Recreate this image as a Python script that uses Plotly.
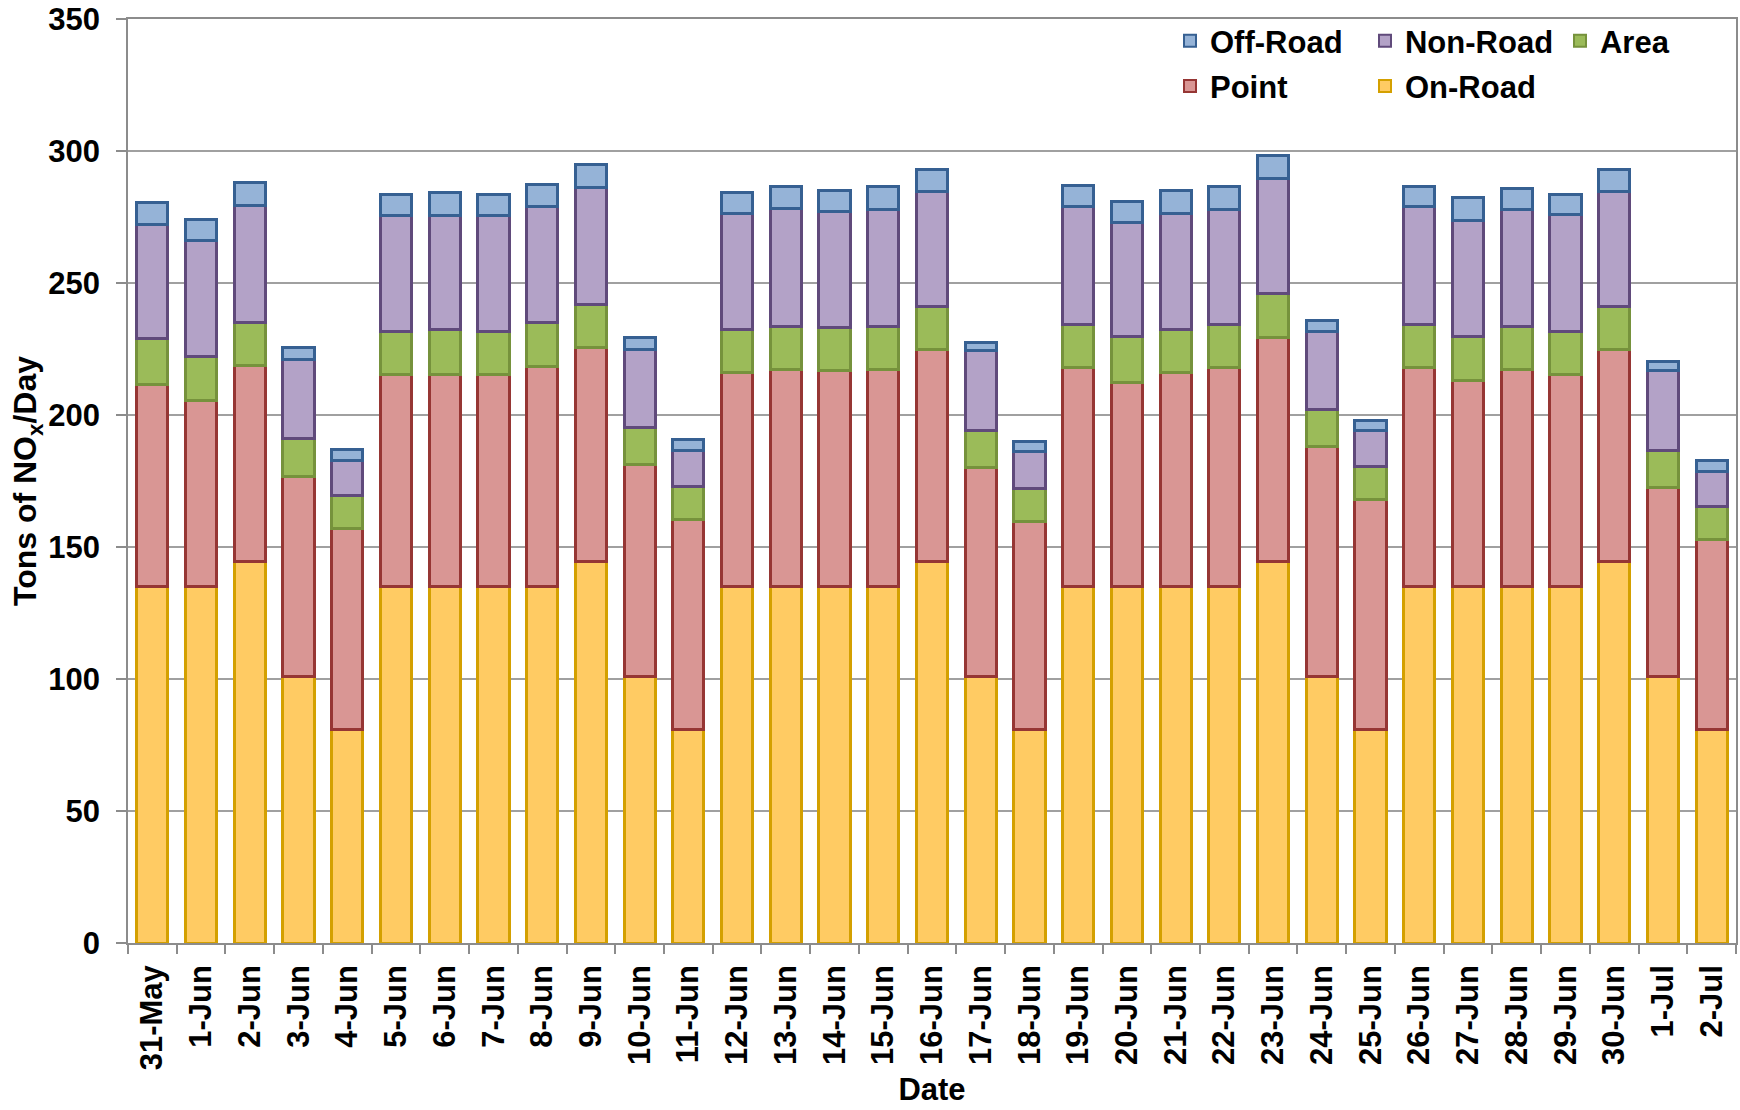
import plotly.graph_objects as go

dates = ["31-May", "1-Jun", "2-Jun", "3-Jun", "4-Jun", "5-Jun", "6-Jun", "7-Jun", "8-Jun", "9-Jun",
         "10-Jun", "11-Jun", "12-Jun", "13-Jun", "14-Jun", "15-Jun", "16-Jun", "17-Jun", "18-Jun",
         "19-Jun", "20-Jun", "21-Jun", "22-Jun", "23-Jun", "24-Jun", "25-Jun", "26-Jun", "27-Jun",
         "28-Jun", "29-Jun", "30-Jun", "1-Jul", "2-Jul"]

on_road = [135, 135, 144.5, 101, 81, 135, 135, 135, 135, 144.5, 101, 81, 135, 135, 135, 135, 144.5,
           101, 81, 135, 135, 135, 135, 144.5, 101, 81, 135, 135, 135, 135, 144.5, 101, 81]
point = [76.5, 70.5, 74.3, 75.8, 76.1, 80.3, 80.3, 80.3, 83.3, 81.0, 80.3, 79.6, 81.0, 82.3, 81.7,
         82.3, 80.3, 79.0, 78.8, 83.0, 77.3, 81.0, 83.0, 84.7, 87.1, 87.0, 83.0, 78.0, 82.3, 80.3,
         80.3, 71.4, 71.7]
area = [17.4, 16.6, 16.2, 14.3, 12.4, 16.3, 17.0, 16.3, 16.7, 16.3, 14.0, 12.5, 16.3, 16.4, 16.3,
        16.4, 16.4, 14.0, 12.2, 16.4, 17.3, 16.3, 16.1, 17.0, 13.9, 12.6, 16.4, 16.9, 16.4, 16.3,
        16.4, 14.1, 12.5]
non_road = [43.3, 44.0, 44.5, 30.1, 13.2, 44.1, 43.4, 44.1, 44.0, 44.3, 29.5, 13.6, 44.2, 44.5,
            44.2, 44.2, 43.5, 30.4, 14.1, 44.4, 43.3, 44.2, 43.8, 43.5, 29.6, 13.4, 44.4, 43.6,
            44.2, 44.3, 43.5, 30.2, 13.4]
off_road = [8.4, 8.0, 8.6, 4.3, 4.3, 7.9, 8.7, 7.9, 8.4, 8.8, 4.4, 4.1, 7.8, 8.4, 7.8, 8.7, 8.4,
            3.2, 3.8, 8.3, 8.1, 8.5, 8.7, 8.6, 4.1, 4.0, 7.8, 8.7, 7.9, 7.7, 8.4, 3.4, 4.1]

y_ticks = [0, 50, 100, 150, 200, 250, 300, 350]

FONT = "Liberation Sans, Arial, sans-serif"

series = [
    ("On-Road", on_road, "#FFCB63", "#D4A000", "legend2"),
    ("Point", point, "#D99694", "#963634", "legend2"),
    ("Area", area, "#9BBB59", "#76923C", "legend"),
    ("Non-Road", non_road, "#B3A2C7", "#604A7B", "legend"),
    ("Off-Road", off_road, "#95B3D7", "#366092", "legend"),
]

fig = go.Figure()
for name, vals, fill, edge, leg in series:
    fig.add_trace(go.Bar(
        x=dates, y=vals, name=name, legend=leg,
        marker=dict(color=fill, line=dict(color=edge, width=3)),
    ))

legend_font = dict(family=FONT, size=31, color="black", weight="bold")

fig.update_layout(
    width=1740, height=1110,
    barmode="stack", bargap=0.36,
    paper_bgcolor="white", plot_bgcolor="white",
    margin=dict(l=128, r=4, t=19, b=167, autoexpand=False),
    font=dict(family=FONT, color="black"),
    legend=dict(
        orientation="h", x=0.648, xanchor="left", y=0.976, yanchor="middle",
        traceorder="reversed", font=legend_font, bgcolor="rgba(0,0,0,0)",
        entrywidth=150, entrywidthmode="pixels", itemsizing="constant",
    ),
    legend2=dict(
        orientation="h", x=0.648, xanchor="left", y=0.927, yanchor="middle",
        traceorder="reversed", font=legend_font, bgcolor="rgba(0,0,0,0)",
        entrywidth=150, entrywidthmode="pixels", itemsizing="constant",
    ),
    xaxis=dict(
        type="category", tickangle=-90, tickson="boundaries", automargin=False,
        ticks="outside", ticklen=9, tickcolor="#8C8C8C", tickwidth=1.5,
        ticklabelstandoff=8,
        showline=True, linecolor="#8C8C8C", linewidth=1.5, mirror=True,
        showgrid=False,
        tickfont=dict(family=FONT, size=31, color="black", weight="bold"),
        title=dict(text="Date", font=dict(family=FONT, size=31, color="black", weight="bold"),
                   standoff=9),
    ),
    yaxis=dict(
        range=[0, 350], tickvals=y_ticks, automargin=False,
        ticks="outside", ticklen=10, tickcolor="#8C8C8C", tickwidth=1.5,
        ticklabelstandoff=10,
        showline=True, linecolor="#8C8C8C", linewidth=1.5, mirror=True,
        showgrid=True, gridcolor="#A0A0A0", gridwidth=1.5,
        zeroline=False,
        tickfont=dict(family=FONT, size=31, color="black", weight="bold"),
        title=dict(text="Tons of NO<sub>x</sub>/Day",
                   font=dict(family=FONT, size=32, color="black", weight="bold"),
                   standoff=2),
    ),
)

fig.write_html(
    "out.html",
    config={"displayModeBar": False},
    post_script="document.body.style.margin='0';document.body.style.overflow='hidden';",
)
